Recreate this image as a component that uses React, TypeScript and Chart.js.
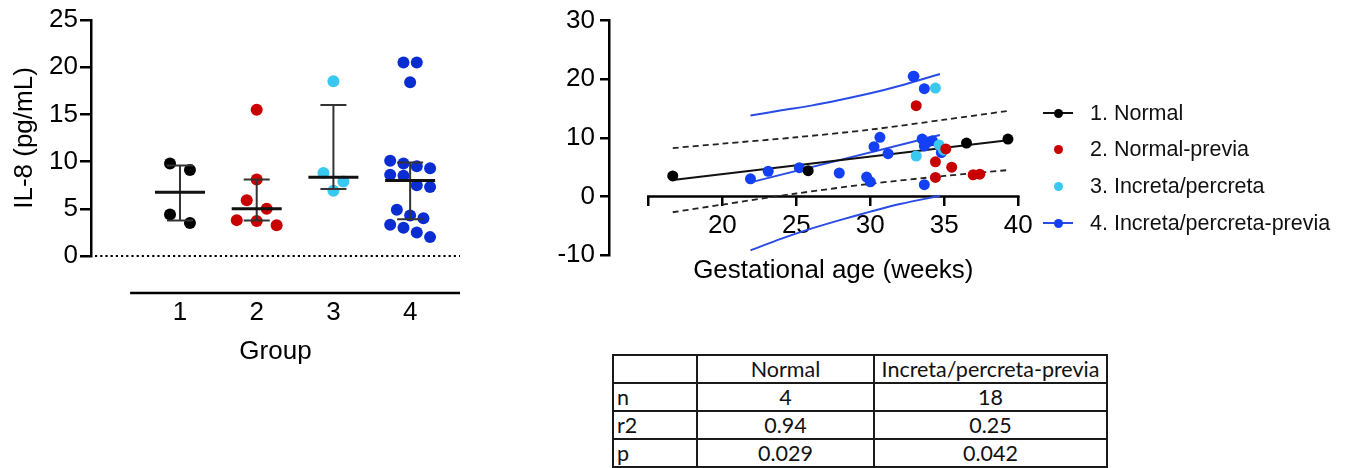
import React, { useEffect, useRef } from 'react';
import { Chart, registerables } from 'chart.js';

Chart.register(...registerables);

// ---------------- data ----------------
const groupLabels = ['1', '2', '3', '4'];
const legendLabels = ['1. Normal', '2. Normal-previa', '3. Increta/percreta', '4. Increta/percreta-previa'];

// IL-8 (pg/mL) per group
const normalIl8 = [9.8, 9.1, 4.4, 3.5];
const normalPreviaIl8 = [15.5, 8.1, 5.9, 5.0, 3.8, 3.7, 3.25];
const incretaIl8 = [18.5, 8.8, 7.9, 6.9];
const incretaPreviaIl8 = [20.5, 20.5, 18.4, 10.1, 9.8, 9.5, 9.3, 8.6, 8.5, 7.5, 7.3, 4.9, 4.3, 4.0, 3.3, 3.0, 2.5, 2.0];

// median with interquartile range
const groupMedians = [6.75, 5.0, 8.35, 8.0];
const groupLowerBar = [3.75, 3.75, 7.1, 3.9];
const groupUpperBar = [9.6, 8.1, 16.0, 9.9];
const leftYTicks = [0, 5, 10, 15, 20, 25];

// gestational age (weeks), same order as the IL-8 arrays
const normalGa = [39.3, 36.5, 25.8, 16.65];
const normalPreviaGa = [33.1, 35.1, 34.4, 35.5, 37.4, 36.95, 34.4];
const incretaGa = [34.4, 34.65, 34.95, 33.1];
const incretaPreviaGa = [32.9, 32.95, 33.65, 30.65, 33.5, 34.2, 33.9, 33.65, 30.25, 34.8, 31.2, 25.2, 23.1, 27.9, 29.75, 21.9, 30.0, 33.65];

// regression lines and bands
const normalFitX = [16.65, 39.3];
const normalFitY = [2.8, 9.6];
const normalBandX = [16.65, 20, 25, 30, 35, 39.3];
const normalBandUpper = [8.25, 9.0, 10.1, 11.4, 13.1, 14.6];
const normalBandLower = [-2.7, -1.4, 0.5, 2.15, 3.5, 4.5];

const previaFitX = [21.9, 34.7];
const previaFitY = [2.4, 10.5];
const previaBandX = [21.9, 24, 26, 28, 30, 32, 34.7];
const previaBandUpper = [13.8, 14.7, 15.5, 16.5, 17.6, 18.9, 20.9];
const previaBandLower = [-9.2, -7.2, -5.5, -4.0, -2.6, -1.3, 0.1];

const rightXTicks = [15, 20, 25, 30, 35, 40];
const rightYTicks = [-10, 0, 10, 20, 30];
const xAxisTitle = 'Gestational age (weeks)';

const tableHeader = ['', 'Normal', 'Increta/percreta-previa'];
const tableRows = [
  ['n', '4', '18'],
  ['r2', '0.94', '0.25'],
  ['p', '0.029', '0.042'],
];

// ---------------- styles ----------------
const FONT = "'Liberation Sans', Arial, Helvetica, sans-serif";
const AXIS_FONT = 26;
const leftColors = ['#000000', '#c80000', '#38c8f0', '#0a2dd2'];
const rightColors = ['#000000', '#c80000', '#38c8f0', '#1440f5'];
const blueLine = '#2a4be6';
const legendHasLine = [true, false, false, true];

Chart.defaults.font.family = FONT;
Chart.defaults.color = '#000';

// simple beeswarm: rows of close values spread symmetrically around the category
function swarm(values: number[], g: number) {
  const rowGap = 1.35;
  const halfSpread = 0.26;
  const order = values.map((_, i) => i).sort((a, b) => values[b] - values[a]);
  const rows: number[][] = [];
  for (const i of order) {
    const last = rows[rows.length - 1];
    if (last && values[last[0]] - values[i] <= rowGap) last.push(i);
    else rows.push([i]);
  }
  const maxLen = Math.max(...rows.map((r) => r.length));
  const step = maxLen > 1 ? Math.min(halfSpread, (2 * halfSpread) / (maxLen - 1)) : 0;
  const pts: any[] = [];
  rows.forEach((r) =>
    r.forEach((i, k) => pts.push({ x: g + (k - (r.length - 1) / 2) * step, y: values[i] }))
  );
  return pts;
}

const xy = (xs: number[], ys: number[]) => xs.map((x, i) => ({ x, y: ys[i] }));

const leftDecor = {
  id: 'leftDecor',
  beforeDatasetsDraw(chart: any) {
    const { ctx, scales } = chart;
    const x = scales.x;
    const y = scales.y;
    const y0 = y.getPixelForValue(0);
    ctx.save();
    ctx.strokeStyle = '#000';
    ctx.lineWidth = 2.2;
    ctx.setLineDash([2.2, 3]);
    ctx.beginPath();
    ctx.moveTo(x.left + 4, y0);
    ctx.lineTo(x.getPixelForValue(4.65), y0);
    ctx.stroke();
    ctx.setLineDash([]);
    ctx.lineWidth = 2.5;
    ctx.beginPath();
    ctx.moveTo(x.getPixelForValue(0.35), y0 + 37);
    ctx.lineTo(x.getPixelForValue(4.65), y0 + 37);
    ctx.stroke();
    ctx.restore();
  },
  afterDatasetsDraw(chart: any) {
    const { ctx, scales } = chart;
    const x = scales.x;
    const y = scales.y;
    ctx.save();
    groupMedians.forEach((m, i) => {
      const cx = x.getPixelForValue(i + 1);
      const ym = y.getPixelForValue(m);
      const ylo = y.getPixelForValue(groupLowerBar[i]);
      const yhi = y.getPixelForValue(groupUpperBar[i]);
      ctx.strokeStyle = '#333';
      ctx.lineWidth = 2;
      ctx.beginPath();
      ctx.moveTo(cx, ylo);
      ctx.lineTo(cx, yhi);
      ctx.moveTo(cx - 13, ylo);
      ctx.lineTo(cx + 13, ylo);
      ctx.moveTo(cx - 13, yhi);
      ctx.lineTo(cx + 13, yhi);
      ctx.stroke();
      ctx.strokeStyle = '#111';
      ctx.lineWidth = 3;
      ctx.beginPath();
      ctx.moveTo(cx - 25, ym);
      ctx.lineTo(cx + 25, ym);
      ctx.stroke();
    });
    ctx.restore();
  },
};

const rightDecor = {
  id: 'rightDecor',
  beforeDatasetsDraw(chart: any) {
    const { ctx, scales } = chart;
    const x = scales.x;
    const y = scales.y;
    const y0 = y.getPixelForValue(0);
    ctx.save();
    ctx.strokeStyle = '#000';
    ctx.lineWidth = 2.5;
    ctx.beginPath();
    ctx.moveTo(x.getPixelForValue(rightXTicks[0]) - 1.25, y0);
    ctx.lineTo(x.getPixelForValue(rightXTicks[rightXTicks.length - 1]) + 1.25, y0);
    ctx.stroke();
    ctx.restore();
  },
  afterDraw(chart: any) {
    const { ctx, scales } = chart;
    const x = scales.x;
    const y = scales.y;
    const y0 = y.getPixelForValue(0);
    const xa = x.getPixelForValue(rightXTicks[0]);
    const xb = x.getPixelForValue(rightXTicks[rightXTicks.length - 1]);
    ctx.save();
    ctx.fillStyle = '#000';
    ctx.font = `${AXIS_FONT}px ${FONT}`;
    ctx.textAlign = 'center';
    ctx.textBaseline = 'middle';
    ctx.fillText(xAxisTitle, (xa + xb) / 2, y0 + 74);
    ctx.restore();
  },
};

function LeftChart() {
  const ref = useRef<HTMLCanvasElement>(null);
  useEffect(() => {
    const all = [normalIl8, normalPreviaIl8, incretaIl8, incretaPreviaIl8];
    const chart = new Chart(ref.current as any, {
      type: 'scatter',
      data: {
        datasets: all.map((vals, gi) => ({
          label: legendLabels[gi],
          data: swarm(vals, gi + 1),
          pointRadius: 6,
          pointHoverRadius: 6,
          backgroundColor: leftColors[gi],
          borderColor: leftColors[gi],
          borderWidth: 0,
        })),
      },
      options: {
        responsive: false,
        animation: false,
        events: [],
        layout: { padding: { left: 0, right: 80, top: 20, bottom: 12.4 } },
        plugins: { legend: { display: false }, tooltip: { enabled: false } },
        scales: {
          x: {
            type: 'linear',
            min: -0.16,
            max: 4.65,
            afterBuildTicks: (s: any) => {
              s.ticks = groupLabels.map((_, i) => ({ value: i + 1 }));
            },
            ticks: {
              callback: (v: any) => groupLabels[Number(v) - 1] ?? '',
              font: { size: AXIS_FONT },
              color: '#000',
              padding: 41.4,
              autoSkip: false,
              maxRotation: 0,
            },
            grid: { display: false, drawTicks: false },
            border: { display: false },
            title: { display: true, text: 'Group', font: { size: AXIS_FONT }, color: '#000', padding: 0 },
            afterFit: (s: any) => {
              s.height = 111.6;
            },
          },
          y: {
            type: 'linear',
            min: 0,
            max: 25,
            afterBuildTicks: (s: any) => {
              s.ticks = leftYTicks.map((v) => ({ value: v }));
            },
            ticks: { font: { size: AXIS_FONT }, color: '#000', padding: 2 },
            grid: { drawOnChartArea: false, drawTicks: true, tickLength: 11, color: '#000', lineWidth: 2.5 },
            border: { display: true, color: '#000', width: 2.5 },
            title: {
              display: true,
              text: 'IL-8 (pg/mL)',
              font: { size: AXIS_FONT },
              color: '#000',
              padding: { top: 9.4, bottom: 0 },
            },
            afterFit: (s: any) => {
              s.width = 91;
            },
          },
        },
      } as any,
      plugins: [leftDecor],
    });
    return () => chart.destroy();
  }, []);
  return <canvas ref={ref} width={540} height={380} style={{ position: 'absolute', left: 0, top: 0 }} />;
}

function RightChart() {
  const ref = useRef<HTMLCanvasElement>(null);
  useEffect(() => {
    const line = (data: any[], color: string, width: number, dash: number[] = [], tension = 0) => ({
      data,
      showLine: true,
      pointRadius: 0,
      pointHoverRadius: 0,
      borderColor: color,
      backgroundColor: color,
      borderWidth: width,
      borderDash: dash,
      tension,
      fill: false,
    });
    const dots = (label: string, xs: number[], ys: number[], color: string) => ({
      label,
      data: xy(xs, ys),
      showLine: false,
      pointRadius: 5.5,
      pointHoverRadius: 5.5,
      backgroundColor: color,
      borderColor: color,
      borderWidth: 0,
    });
    const chart = new Chart(ref.current as any, {
      type: 'scatter',
      data: {
        datasets: [
          dots(legendLabels[0], normalGa, normalIl8, rightColors[0]),
          dots(legendLabels[1], normalPreviaGa, normalPreviaIl8, rightColors[1]),
          dots(legendLabels[2], incretaGa, incretaIl8, rightColors[2]),
          dots(legendLabels[3], incretaPreviaGa, incretaPreviaIl8, rightColors[3]),
          line(xy(normalFitX, normalFitY), '#111', 2),
          line(xy(normalBandX, normalBandUpper), '#222', 1.8, [6, 4], 0.3),
          line(xy(normalBandX, normalBandLower), '#222', 1.8, [6, 4], 0.3),
          line(xy(previaFitX, previaFitY), blueLine, 2),
          line(xy(previaBandX, previaBandUpper), blueLine, 2, [], 0.3),
          line(xy(previaBandX, previaBandLower), blueLine, 2, [], 0.3),
        ],
      },
      options: {
        responsive: false,
        animation: false,
        events: [],
        layout: { padding: { left: 0, right: 331.7, top: 20.7, bottom: 95 } },
        plugins: { legend: { display: false }, tooltip: { enabled: false } },
        scales: {
          x: {
            type: 'linear',
            min: 12.34,
            max: 40,
            position: { y: 0 },
            afterBuildTicks: (s: any) => {
              s.ticks = rightXTicks.map((v) => ({ value: v }));
            },
            ticks: {
              callback: (v: any) => (Number(v) === rightXTicks[0] ? '' : String(v)),
              font: { size: AXIS_FONT },
              color: '#000',
              padding: 4.2,
              autoSkip: false,
              maxRotation: 0,
            },
            grid: { drawOnChartArea: false, drawTicks: true, tickLength: 10, color: '#000', lineWidth: 2.5 },
            border: { display: false },
            afterFit: (s: any) => {
              s.height = 0;
            },
          },
          y: {
            type: 'linear',
            min: -10,
            max: 30,
            afterBuildTicks: (s: any) => {
              s.ticks = rightYTicks.map((v) => ({ value: v }));
            },
            ticks: { font: { size: AXIS_FONT }, color: '#000', padding: 5 },
            grid: { drawOnChartArea: false, drawTicks: true, tickLength: 9, color: '#000', lineWidth: 2.5 },
            border: { display: true, color: '#000', width: 2.5 },
            afterFit: (s: any) => {
              s.width = 69;
            },
          },
        },
      } as any,
      plugins: [rightDecor],
    });
    return () => chart.destroy();
  }, []);
  return <canvas ref={ref} width={810} height={350} style={{ position: 'absolute', left: 540, top: 0 }} />;
}

function Legend() {
  return (
    <div style={{ position: 'absolute', left: 1043, top: 94.5 }}>
      {legendLabels.map((t, i) => (
        <div
          key={t}
          style={{ position: 'absolute', left: 0, top: i * 36.7, height: 37, display: 'flex', alignItems: 'center', whiteSpace: 'nowrap' }}
        >
          <div style={{ position: 'relative', width: 30, height: 37 }}>
            {legendHasLine[i] && (
              <div style={{ position: 'absolute', left: 0, top: 17.5, width: 30, height: 2, background: i === 3 ? blueLine : '#111' }} />
            )}
            <div
              style={{ position: 'absolute', left: 10.5, top: 14, width: 9, height: 9, borderRadius: '50%', background: rightColors[i] }}
            />
          </div>
          <span style={{ marginLeft: 17, fontSize: 21.5, fontFamily: FONT, color: '#111' }}>{t}</span>
        </div>
      ))}
    </div>
  );
}

function StatsTable() {
  const widths = [84, 177, 233];
  const cell = (i: number): React.CSSProperties => ({
    border: '2px solid #1a1a1a',
    width: widths[i],
    padding: i === 0 ? '0 0 0 3px' : 0,
    textAlign: i === 0 ? 'left' : 'center',
    height: 26,
    lineHeight: '26px',
    boxSizing: 'border-box',
  });
  return (
    <table
      style={{
        position: 'absolute',
        left: 612,
        top: 354,
        borderCollapse: 'collapse',
        fontFamily: "Lato, 'Open Sans', sans-serif",
        fontSize: 21.5,
        color: '#111',
        tableLayout: 'fixed',
        width: 494,
      }}
    >
      <tbody>
        <tr style={{ height: 28 }}>
          {tableHeader.map((h, i) => (
            <td key={i} style={cell(i)}>
              {h}
            </td>
          ))}
        </tr>
        {tableRows.map((r, ri) => (
          <tr key={ri} style={{ height: 28 }}>
            {r.map((c, i) => (
              <td key={i} style={cell(i)}>
                {c}
              </td>
            ))}
          </tr>
        ))}
      </tbody>
    </table>
  );
}

export default function App() {
  return (
    <div style={{ position: 'absolute', left: 0, top: 0, width: 1350, height: 468, overflow: 'hidden', background: '#fff' }}>
      <LeftChart />
      <RightChart />
      <Legend />
      <StatsTable />
    </div>
  );
}
